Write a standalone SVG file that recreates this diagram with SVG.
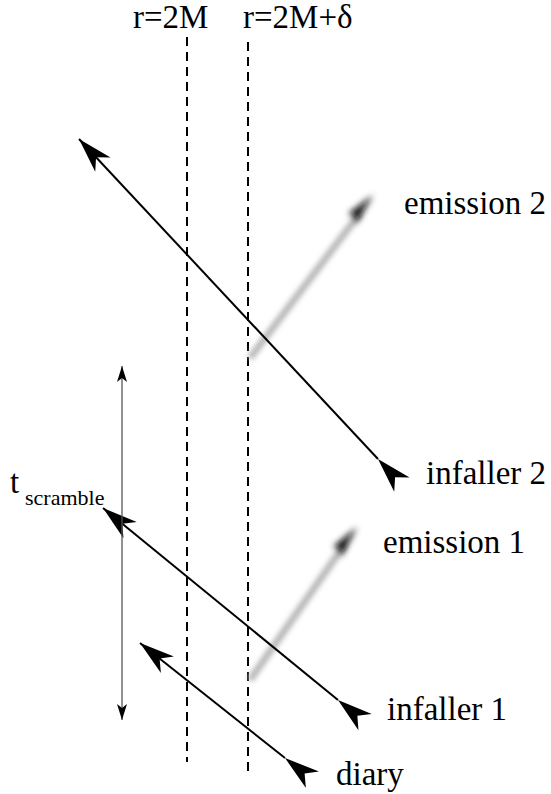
<svg xmlns="http://www.w3.org/2000/svg" width="551" height="794" viewBox="0 0 551 794">
<style>
  .lbl { font-family: "Liberation Serif", "Times New Roman", Times, Tinos, "Nimbus Roman", "Nimbus Roman No9 L", "FreeSerif", "Noto Serif", "DejaVu Serif", serif; font-size: 33px; fill: #000; }
  .sub { font-family: "Liberation Serif", "Times New Roman", Times, Tinos, "Nimbus Roman", "Nimbus Roman No9 L", "FreeSerif", "Noto Serif", "DejaVu Serif", serif; font-size: 22px; fill: #000; }
  .horizon { stroke: #000; stroke-width: 2; stroke-dasharray: 9 6; fill: none; }
  .ray { stroke: #000; stroke-width: 2; fill: none; marker-start: url(#ah); marker-end: url(#ah); }
  .span { stroke: #555; stroke-width: 1.3; fill: none; marker-start: url(#sh); marker-end: url(#sh); }
  .emit { stroke: #b8b8b8; stroke-width: 7; fill: none; filter: url(#blur); }
  .emithead { fill: #111; filter: url(#blur2); }
</style>
<defs>
  <marker id="ah" viewBox="-37 -12 38 24" refX="0" refY="0" markerWidth="38" markerHeight="24" markerUnits="userSpaceOnUse" orient="auto">
    <path d="M0,0 L-35,-10.5 L-25,0 L-35,10.5 Z" fill="#000"/>
  </marker>
  <marker id="sh" viewBox="-17 -6 18 12" refX="0" refY="0" markerWidth="18" markerHeight="12" markerUnits="userSpaceOnUse" orient="auto-start-reverse">
    <path d="M0,0 L-16,-5 L-12,0 L-16,5 Z" fill="#000"/>
  </marker>
  <filter id="blur" x="-50%" y="-50%" width="200%" height="200%">
    <feGaussianBlur stdDeviation="2.5"/>
  </filter>
  <filter id="blur2" x="-100%" y="-100%" width="300%" height="300%">
    <feGaussianBlur stdDeviation="3"/>
  </filter>
</defs>

<g id="horizon-2M">
  <line class="horizon" x1="187" y1="37" x2="187" y2="762"/>
  <text class="lbl" x="133" y="28">r=2M</text>
</g>
<g id="horizon-2M-delta">
  <line class="horizon" x1="248" y1="42" x2="248" y2="772"/>
  <text class="lbl" x="243" y="28">r=2M+δ</text>
</g>

<g id="emission2">
  <line class="emit" x1="250" y1="358" x2="360" y2="213"/>
  <path class="emithead" d="M373,195 L348,214 L355,216 L356,224 Z"/>
  <text class="lbl" x="404" y="214">emission 2</text>
</g>
<g id="emission1">
  <line class="emit" x1="250" y1="680" x2="345" y2="544"/>
  <path class="emithead" d="M357,527 L333,547 L340,549 L341,557 Z"/>
  <text class="lbl" x="383" y="553">emission 1</text>
</g>

<g id="connectors">
  <line class="ray" x1="378" y1="459" x2="79" y2="139"/>
  <line class="ray" x1="338" y1="700" x2="103" y2="508"/>
  <line class="ray" x1="285" y1="758" x2="140" y2="643"/>
  <line class="span" x1="122" y1="720" x2="122" y2="366"/>
</g>

<g id="infaller2">
  <text class="lbl" x="426" y="484">infaller 2</text>
</g>
<g id="infaller1">
  <text class="lbl" x="387" y="720">infaller 1</text>
</g>
<g id="diary">
  <text class="lbl" x="336" y="785">diary</text>
</g>
<g id="tscramble">
  <text class="lbl" x="10" y="493">t</text>
  <text class="sub" x="25" y="505">scramble</text>
</g>
</svg>
